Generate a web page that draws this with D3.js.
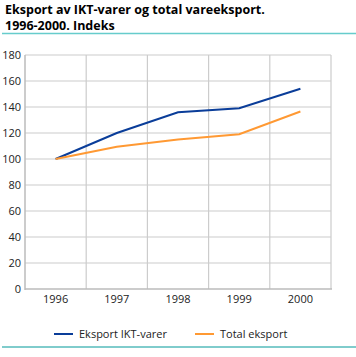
<!DOCTYPE html>
<html><head><meta charset="utf-8">
<script src="https://cdn.jsdelivr.net/npm/d3@7"></script>
<style>body{margin:0;background:#fff}svg{display:block}</style>
</head><body>
<svg id="c" width="356" height="357"></svg>
<script>
const years = ["1996","1997","1998","1999","2000"];
const iktValues = [100, 120, 136, 139, 154];
const totalValues = [100, 109.5, 115, 119, 136.5];
const yTicks = [0,20,40,60,80,100,120,140,160,180];
const seriesNames = ["Eksport IKT-varer","Total eksport"];
const colors = ["#0a3d99","#ff9933"];

const svg = d3.select("#c");
const font = "'Open Sans', sans-serif";
const L=25, R=331, T=55, B=289;

svg.append("text").attr("x",5).attr("y",14).attr("font-family",font).attr("font-weight","bold")
  .attr("font-size",12.5).attr("fill","#000").text("Eksport av IKT-varer og total vareeksport.");
svg.append("text").attr("x",5).attr("y",30).attr("font-family",font).attr("font-weight","bold")
  .attr("font-size",12.5).attr("fill","#000").text("1996-2000. Indeks");
svg.append("line").attr("x1",2).attr("x2",356).attr("y1",33.5).attr("y2",33.5).attr("stroke","#66cccc").attr("stroke-width",1.5);

const x = d3.scaleBand().domain(years).range([L,R]);
const y = d3.scaleLinear().domain([0,180]).range([B,T]);

const g = svg.append("g");
g.selectAll(".hg").data(yTicks.filter(d=>d>0)).join("line")
  .attr("x1",L).attr("x2",R).attr("y1",d=>y(d)).attr("y2",d=>y(d))
  .attr("stroke","#cccccc").attr("stroke-width",1.2);
g.selectAll(".vg").data(years.slice(1).concat(["end"])).join("line")
  .attr("x1",d=>d==="end"?R:x(d)).attr("x2",d=>d==="end"?R:x(d)).attr("y1",T).attr("y2",B)
  .attr("stroke","#cccccc").attr("stroke-width",1.2);
g.append("line").attr("x1",L).attr("x2",L).attr("y1",T).attr("y2",B+1).attr("stroke","#bbbbbb").attr("stroke-width",1.5);
g.append("line").attr("x1",L).attr("x2",R+1).attr("y1",B).attr("y2",B).attr("stroke","#bbbbbb").attr("stroke-width",1.5);

const yAxis = d3.axisLeft(y).tickValues(yTicks).tickSize(0).tickPadding(4);
const ya = svg.append("g").attr("transform",`translate(${L},0)`).call(yAxis);
ya.select(".domain").remove();
ya.selectAll("text").attr("font-family",font).attr("font-size",11).attr("fill","#222");

const xAxis = d3.axisBottom(x).tickSize(0).tickPadding(6);
const xa = svg.append("g").attr("transform",`translate(0,${B})`).call(xAxis);
xa.select(".domain").remove();
xa.selectAll("text").attr("font-family",font).attr("font-size",11).attr("fill","#222");

const line = d3.line().x((d,i)=>x(years[i])+x.bandwidth()/2).y(d=>y(d));
[iktValues,totalValues].forEach((vals,k)=>{
  svg.append("path").datum(vals).attr("d",line).attr("fill","none")
    .attr("stroke",colors[k]).attr("stroke-width",2);
});

const lx=[54,195];
seriesNames.forEach((n,k)=>{
  svg.append("line").attr("x1",lx[k]).attr("x2",lx[k]+19).attr("y1",334).attr("y2",334)
    .attr("stroke",colors[k]).attr("stroke-width",2);
  svg.append("text").attr("x",lx[k]+25).attr("y",338).attr("font-family",font).attr("font-size",11)
    .attr("fill","#222").text(n);
});
svg.append("line").attr("x1",2).attr("x2",356).attr("y1",347).attr("y2",347).attr("stroke","#009999").attr("stroke-width",1);
</script>
</body></html>
